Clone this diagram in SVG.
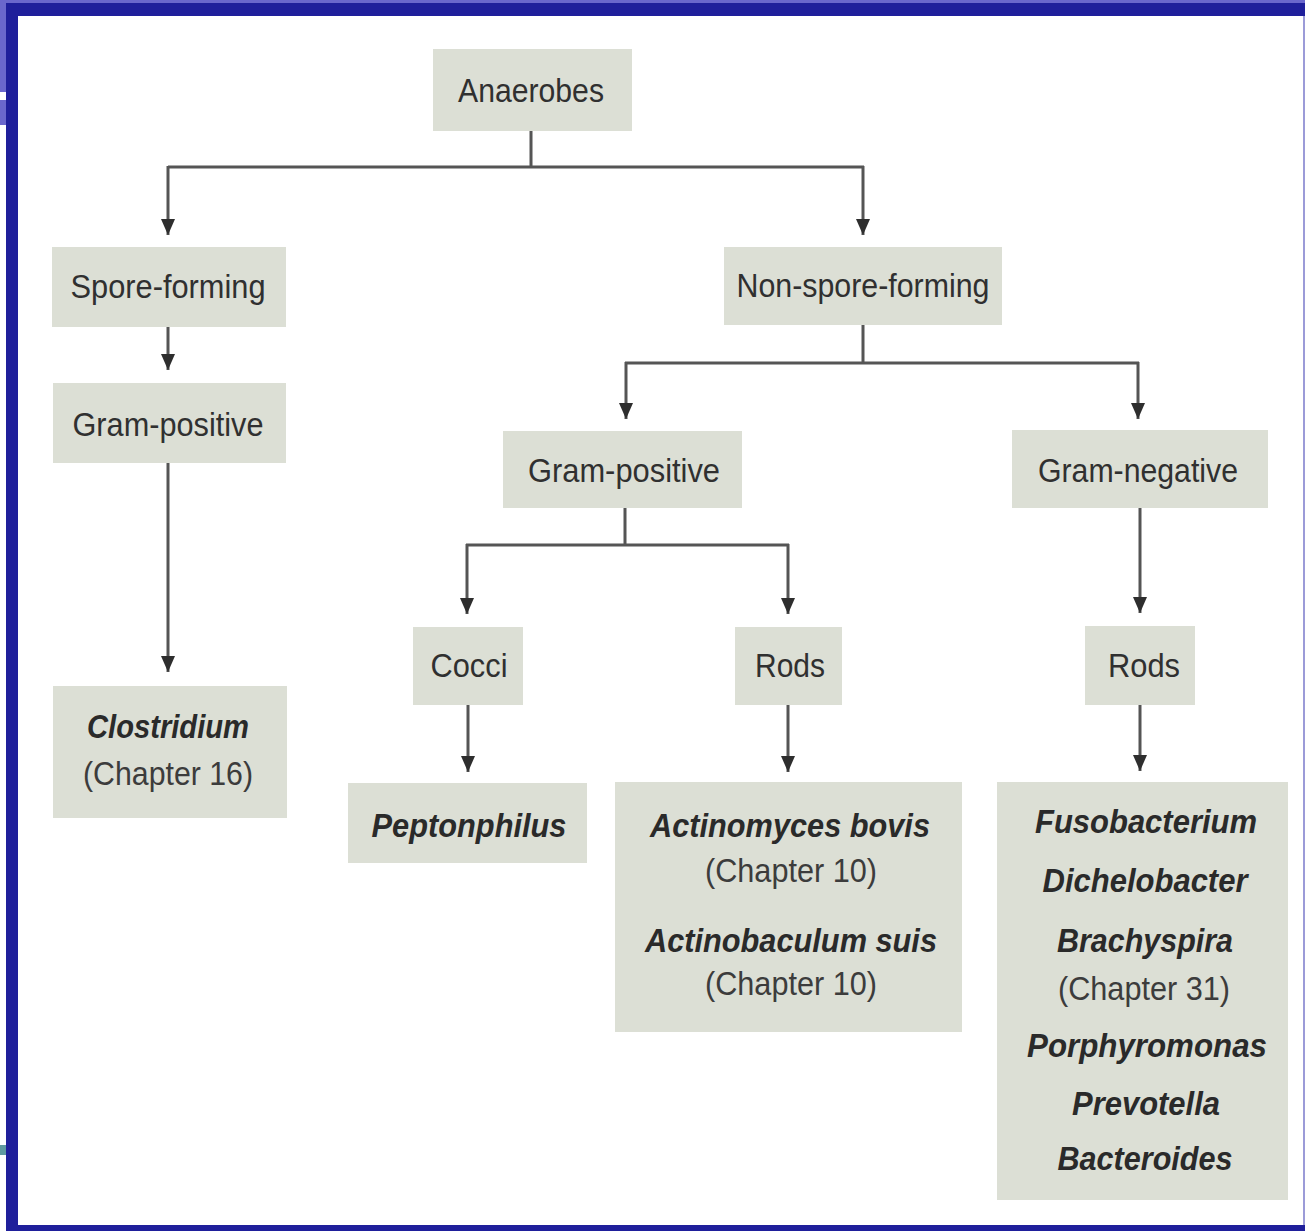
<svg xmlns="http://www.w3.org/2000/svg" width="1305" height="1231" viewBox="0 0 1305 1231">
<style>
.box{fill:#dcdfd5}
.t{font-family:"Liberation Sans",Arial,sans-serif;font-size:34px;fill:#303030;text-anchor:middle}
.sp{font-weight:bold;font-style:italic;fill:#2a2a2a}
.ch{fill:#3c3c3c}
.c{fill:none;stroke:#555;stroke-width:3}
</style>
<defs>
<marker id="ah" markerUnits="userSpaceOnUse" markerWidth="16" markerHeight="14" viewBox="0 0 16 14" refX="16" refY="7" orient="auto">
<path d="M0,0 L16,7 L0,14 z" fill="#2e2e2e"/>
</marker>
</defs>
<rect x="0" y="0" width="1305" height="1231" fill="#ffffff"/>
<g id="frame">
<rect x="0" y="0" width="1305" height="3" fill="#6a67cc"/>
<rect x="0" y="0" width="6" height="92" fill="#6a67cc"/>
<rect x="0" y="100" width="6" height="25" fill="#6a67cc"/>
<rect x="0" y="1145" width="6" height="10" fill="#5f9aa0"/>
<rect x="6" y="3" width="1299" height="13" fill="#1f1f9b"/>
<rect x="6" y="3" width="12" height="1228" fill="#1f1f9b"/>
<rect x="6" y="1225" width="1299" height="6" fill="#1f1f9b"/>
<rect x="1303" y="16" width="2" height="1209" fill="#9c9bd8"/>
</g>
<g id="connectors">
<path class="c" d="M531,131 V167 M168,167 H864"/>
<path class="c" marker-end="url(#ah)" d="M168,166 V235"/>
<path class="c" marker-end="url(#ah)" d="M863,166 V235"/>
<path class="c" marker-end="url(#ah)" d="M168,326 V370"/>
<path class="c" marker-end="url(#ah)" d="M168,463 V672"/>
<path class="c" d="M863,325 V363 M625,363 H1139"/>
<path class="c" marker-end="url(#ah)" d="M626,362 V419"/>
<path class="c" marker-end="url(#ah)" d="M1138,362 V419"/>
<path class="c" d="M625,508 V545 M466,545 H789"/>
<path class="c" marker-end="url(#ah)" d="M467,544 V614"/>
<path class="c" marker-end="url(#ah)" d="M788,544 V614"/>
<path class="c" marker-end="url(#ah)" d="M1140,508 V613"/>
<path class="c" marker-end="url(#ah)" d="M468,705 V772"/>
<path class="c" marker-end="url(#ah)" d="M788,705 V772"/>
<path class="c" marker-end="url(#ah)" d="M1140,705 V771"/>
</g>
<g id="anaerobes">
<rect class="box" x="433" y="49" width="199" height="82"/>
<text class="t" x="531" y="102" textLength="146" lengthAdjust="spacingAndGlyphs">Anaerobes</text>
</g>
<g id="spore-forming">
<rect class="box" x="52" y="247" width="234" height="80"/>
<text class="t" x="168" y="298" textLength="195" lengthAdjust="spacingAndGlyphs">Spore-forming</text>
</g>
<g id="gram-positive-left">
<rect class="box" x="53" y="383" width="233" height="80"/>
<text class="t" x="168" y="436" textLength="191" lengthAdjust="spacingAndGlyphs">Gram-positive</text>
</g>
<g id="clostridium">
<rect class="box" x="53" y="686" width="234" height="132"/>
<text class="t sp" x="168" y="738" textLength="162" lengthAdjust="spacingAndGlyphs">Clostridium</text>
<text class="t ch" x="168" y="785" textLength="170" lengthAdjust="spacingAndGlyphs">(Chapter 16)</text>
</g>
<g id="non-spore-forming">
<rect class="box" x="724" y="247" width="278" height="78"/>
<text class="t" x="863" y="297" textLength="253" lengthAdjust="spacingAndGlyphs">Non-spore-forming</text>
</g>
<g id="gram-positive-mid">
<rect class="box" x="503" y="431" width="239" height="77"/>
<text class="t" x="624" y="482" textLength="192" lengthAdjust="spacingAndGlyphs">Gram-positive</text>
</g>
<g id="gram-negative">
<rect class="box" x="1012" y="430" width="256" height="78"/>
<text class="t" x="1138" y="482" textLength="200" lengthAdjust="spacingAndGlyphs">Gram-negative</text>
</g>
<g id="cocci">
<rect class="box" x="413" y="627" width="110" height="78"/>
<text class="t" x="469" y="677" textLength="77" lengthAdjust="spacingAndGlyphs">Cocci</text>
</g>
<g id="rods-mid">
<rect class="box" x="735" y="627" width="107" height="78"/>
<text class="t" x="790" y="677" textLength="70" lengthAdjust="spacingAndGlyphs">Rods</text>
</g>
<g id="rods-right">
<rect class="box" x="1085" y="626" width="110" height="79"/>
<text class="t" x="1144" y="677" textLength="72" lengthAdjust="spacingAndGlyphs">Rods</text>
</g>
<g id="peptonphilus">
<rect class="box" x="348" y="783" width="239" height="80"/>
<text class="t sp" x="469" y="837" textLength="195" lengthAdjust="spacingAndGlyphs">Peptonphilus</text>
</g>
<g id="actinomyces">
<rect class="box" x="615" y="782" width="347" height="250"/>
<text class="t sp" x="790" y="837" textLength="280" lengthAdjust="spacingAndGlyphs">Actinomyces bovis</text>
<text class="t ch" x="791" y="882" textLength="172" lengthAdjust="spacingAndGlyphs">(Chapter 10)</text>
<text class="t sp" x="791" y="952" textLength="292" lengthAdjust="spacingAndGlyphs">Actinobaculum suis</text>
<text class="t ch" x="791" y="995" textLength="172" lengthAdjust="spacingAndGlyphs">(Chapter 10)</text>
</g>
<g id="gram-negative-rods-list">
<rect class="box" x="997" y="782" width="291" height="418"/>
<text class="t sp" x="1146" y="833" textLength="222" lengthAdjust="spacingAndGlyphs">Fusobacterium</text>
<text class="t sp" x="1145" y="892" textLength="205" lengthAdjust="spacingAndGlyphs">Dichelobacter</text>
<text class="t sp" x="1145" y="952" textLength="176" lengthAdjust="spacingAndGlyphs">Brachyspira</text>
<text class="t ch" x="1144" y="1000" textLength="172" lengthAdjust="spacingAndGlyphs">(Chapter 31)</text>
<text class="t sp" x="1147" y="1057" textLength="240" lengthAdjust="spacingAndGlyphs">Porphyromonas</text>
<text class="t sp" x="1146" y="1115" textLength="148" lengthAdjust="spacingAndGlyphs">Prevotella</text>
<text class="t sp" x="1145" y="1170" textLength="175" lengthAdjust="spacingAndGlyphs">Bacteroides</text>
</g>
</svg>
